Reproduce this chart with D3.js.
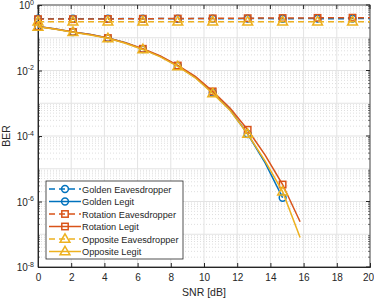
<!DOCTYPE html>
<html>
<head>
<meta charset="utf-8">
<script src="https://cdn.jsdelivr.net/npm/d3@7"></script>
<style>
    body { margin: 0; background: #fff; }
    text { font-family: "Liberation Sans", Arial, sans-serif; fill: #262626; }
</style>
</head>
<body>
<div id="chart"></div>
<script>
// SNR grid (20 points from 0 to 20 dB), markers on every other point
const snr = [0, 1.053, 2.105, 3.158, 4.211, 5.263, 6.316, 7.368, 8.421, 9.474,
    10.526, 11.579, 12.632, 13.684, 14.737, 15.789, 16.842, 17.895, 18.947, 20];

const goldenEve = [0.38, 0.38, 0.385, 0.38, 0.38, 0.385, 0.38, 0.385, 0.38, 0.385,
    0.385, 0.38, 0.385, 0.385, 0.38, 0.385, 0.385, 0.38, 0.385, 0.385];
const rotationEve = [0.37, 0.375, 0.37, 0.375, 0.375, 0.38, 0.38, 0.385, 0.385, 0.39,
    0.39, 0.395, 0.395, 0.4, 0.4, 0.4, 0.405, 0.405, 0.41, 0.41];
const oppositeEve = [0.31, 0.31, 0.31, 0.31, 0.31, 0.31, 0.31, 0.31, 0.31, 0.31,
    0.31, 0.31, 0.31, 0.31, 0.31, 0.31, 0.31, 0.31, 0.31, 0.31];

const goldenLegit = [0.22, 0.185, 0.15, 0.125, 0.098, 0.07, 0.045, 0.027, 0.0138, 0.0062,
    0.0021, 6.2e-4, 1.15e-4, 1.5e-5, 1.3e-6];
const rotationLegit = [0.22, 0.185, 0.15, 0.125, 0.098, 0.07, 0.046, 0.028, 0.0142, 0.0066,
    0.0023, 7.0e-4, 1.55e-4, 2.6e-5, 3.3e-6, 2.4e-7];
const oppositeLegit = [0.215, 0.182, 0.148, 0.122, 0.096, 0.068, 0.044, 0.026, 0.0134, 0.006,
    0.002, 6.0e-4, 1.15e-4, 1.7e-5, 2.0e-6, 8.0e-8];

const seriesNames = ['Golden Eavesdropper', 'Golden Legit', 'Rotation Eavesdropper',
    'Rotation Legit', 'Opposite Eavesdropper', 'Opposite Legit'];

const xTicks = [0, 2, 4, 6, 8, 10, 12, 14, 16, 18, 20];
const yTickExps = [0, -2, -4, -6, -8];

const width = 374;
const height = 299;
const margin = { top: 5, right: 4, bottom: 32, left: 38 };

const blue = '#0072BD';
const red = '#D95319';
const yellow = '#EDB120';

const series = [
    { name: seriesNames[0], values: goldenEve, color: blue, marker: 'circle', dash: true },
    { name: seriesNames[1], values: goldenLegit, color: blue, marker: 'circle', dash: false },
    { name: seriesNames[2], values: rotationEve, color: red, marker: 'square', dash: true },
    { name: seriesNames[3], values: rotationLegit, color: red, marker: 'square', dash: false },
    { name: seriesNames[4], values: oppositeEve, color: yellow, marker: 'triangle', dash: true },
    { name: seriesNames[5], values: oppositeLegit, color: yellow, marker: 'triangle', dash: false }
];

const svg = d3.select('#chart')
    .append('svg')
    .attr('width', width)
    .attr('height', height);

const x = d3.scaleLinear()
    .domain([0, 20])
    .range([margin.left, width - margin.right]);

const y = d3.scaleLog()
    .domain([1e-8, 1])
    .range([height - margin.bottom, margin.top]);

const x0 = x.range()[0], x1 = x.range()[1];
const y0 = y.range()[1], y1 = y.range()[0];

// minor grid (dotted)
const grid = svg.append('g');
for (let e = -8; e < 0; e++) {
    for (let m = 2; m <= 9; m++) {
        grid.append('line')
            .attr('x1', x0).attr('x2', x1)
            .attr('y1', y(m * Math.pow(10, e))).attr('y2', y(m * Math.pow(10, e)))
            .attr('stroke', '#d6d6d6')
            .attr('stroke-width', 0.8)
            .attr('stroke-dasharray', '1,2');
    }
}
// major grid
for (let e = -7; e <= 0; e++) {
    grid.append('line')
        .attr('x1', x0).attr('x2', x1)
        .attr('y1', y(Math.pow(10, e))).attr('y2', y(Math.pow(10, e)))
        .attr('stroke', '#e3e3e3');
}
xTicks.forEach(t => {
    grid.append('line')
        .attr('x1', x(t)).attr('x2', x(t))
        .attr('y1', y0).attr('y2', y1)
        .attr('stroke', '#e3e3e3');
});

// axes
const xAxis = d3.axisBottom(x).tickValues(xTicks).tickSize(-4).tickPadding(7);
const gx = svg.append('g')
    .attr('transform', `translate(0,${y1})`)
    .call(xAxis);
gx.selectAll('text').attr('font-size', 10).style('fill', '#262626');
// keep the last label inside the page
gx.selectAll('.tick text').filter(d => d === 20).attr('dx', -2);

const yAxis = d3.axisLeft(y).tickValues(yTickExps.map(e => Math.pow(10, e)))
    .tickSize(-4).tickFormat('');
const gy = svg.append('g')
    .attr('transform', `translate(${x0},0)`)
    .call(yAxis);

// minor y ticks
for (let e = -8; e < 0; e++) {
    for (let m = 2; m <= 9; m++) {
        const yy = y(m * Math.pow(10, e));
        svg.append('line').attr('x1', x0).attr('x2', x0 + 2).attr('y1', yy).attr('y2', yy)
            .attr('stroke', '#262626').attr('stroke-width', 0.6);
        svg.append('line').attr('x1', x1).attr('x2', x1 - 2).attr('y1', yy).attr('y2', yy)
            .attr('stroke', '#262626').attr('stroke-width', 0.6);
    }
}
// right/top ticks
yTickExps.forEach(e => {
    svg.append('line').attr('x1', x1).attr('x2', x1 - 4)
        .attr('y1', y(Math.pow(10, e))).attr('y2', y(Math.pow(10, e)))
        .attr('stroke', '#262626');
});
xTicks.forEach(t => {
    svg.append('line').attr('x1', x(t)).attr('x2', x(t))
        .attr('y1', y0).attr('y2', y0 + 4)
        .attr('stroke', '#262626');
});

[gx, gy].forEach(g => {
    g.select('.domain').attr('stroke', '#262626');
    g.selectAll('.tick line').attr('stroke', '#262626');
});

// box
svg.append('rect')
    .attr('x', x0).attr('y', y0)
    .attr('width', x1 - x0).attr('height', y1 - y0)
    .attr('fill', 'none')
    .attr('stroke', '#262626')
    .attr('stroke-width', 0.8);

// y tick labels 10^e
yTickExps.forEach(e => {
    const t = svg.append('text')
        .attr('x', x0 - 4)
        .attr('y', Math.max(y(Math.pow(10, e)) + 4, 9))
        .attr('text-anchor', 'end')
        .attr('font-size', 10);
    t.append('tspan').text('10');
    t.append('tspan').attr('dy', -4.5).attr('font-size', 7).text(String(e));
});

// axis labels
svg.append('text')
    .attr('x', (x0 + x1) / 2)
    .attr('y', 296)
    .attr('text-anchor', 'middle')
    .attr('font-size', 10.5)
    .text('SNR [dB]');

svg.append('text')
    .attr('transform', `translate(10,${(y0 + y1) / 2}) rotate(-90)`)
    .attr('text-anchor', 'middle')
    .attr('font-size', 10.5)
    .text('BER');

// marker drawing
function drawMarker(g, type, cx, cy, color) {
    if (type === 'circle') {
        g.append('circle').attr('cx', cx).attr('cy', cy).attr('r', 3.4)
            .attr('fill', 'none').attr('stroke', color).attr('stroke-width', 1.5);
    } else if (type === 'square') {
        g.append('rect').attr('x', cx - 3.2).attr('y', cy - 3.2).attr('width', 6.4).attr('height', 6.4)
            .attr('fill', 'none').attr('stroke', color).attr('stroke-width', 1.5);
    } else {
        g.append('path')
            .attr('d', d3.symbol().type(d3.symbolTriangle).size(42)())
            .attr('transform', `translate(${cx},${cy + 0.5})`)
            .attr('fill', 'none').attr('stroke', color).attr('stroke-width', 1.5);
    }
}

const line = d3.line()
    .x(d => x(d[0]))
    .y(d => y(d[1]));

const plot = svg.append('g');
series.forEach(s => {
    const pts = s.values.map((v, i) => [snr[i], v]);
    plot.append('path')
        .datum(pts)
        .attr('d', line)
        .attr('fill', 'none')
        .attr('stroke', s.color)
        .attr('stroke-width', 1.5)
        .attr('stroke-dasharray', s.dash ? '6,4' : null);
    pts.forEach((p, i) => {
        if (i % 2 === 0) drawMarker(plot, s.marker, x(p[0]), y(p[1]), s.color);
    });
});

// legend
const lg = svg.append('g');
const lgX = 46, lgY = 181, lgW = 137, lgH = 78, rowH = 12.5;
lg.append('rect')
    .attr('x', lgX).attr('y', lgY).attr('width', lgW).attr('height', lgH)
    .attr('fill', '#fff').attr('stroke', '#262626').attr('stroke-width', 0.8);
series.forEach((s, i) => {
    const cy = lgY + 8 + i * rowH;
    lg.append('line')
        .attr('x1', lgX + 3).attr('x2', lgX + 35)
        .attr('y1', cy).attr('y2', cy)
        .attr('stroke', s.color).attr('stroke-width', 1.5)
        .attr('stroke-dasharray', s.dash ? '6,4' : null);
    drawMarker(lg, s.marker, lgX + 19, cy, s.color);
    lg.append('text')
        .attr('x', lgX + 36)
        .attr('y', cy + 3.5)
        .attr('font-size', 9.2)
        .text(s.name);
});
</script>
</body>
</html>
